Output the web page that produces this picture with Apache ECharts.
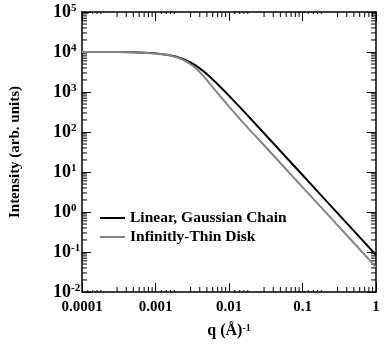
<!DOCTYPE html>
<html>
<head>
<meta charset="utf-8">
<script src="https://cdn.jsdelivr.net/npm/echarts@6/dist/echarts.min.js"></script>
<style>
  html, body { margin: 0; padding: 0; background: #fff; }
  #chart { width: 386px; height: 350px; }
</style>
</head>
<body>
<div id="chart"></div>
<script>
// Scattering vector q (1/Å)
const qValues = [0.0001, 0.0002, 0.0003, 0.0005, 0.001, 0.0015, 0.002, 0.0025, 0.003, 0.0035,
  0.004, 0.0045, 0.005, 0.0055, 0.006, 0.0065, 0.007, 0.008, 0.009, 0.01, 0.012, 0.015, 0.02,
  0.03, 0.05, 0.1, 0.2, 0.5, 1];
// Intensity for a linear Gaussian chain (Debye)
const gaussianChain = [9992, 9968, 9929, 9805, 9240, 8431, 7458, 6449, 5490, 4634,
  3904, 3296, 2798, 2392, 2062, 1791, 1568, 1227, 983.6, 805, 566.5, 366.5, 207.9,
  92.9, 33.56, 8.40, 2.101, 0.3361, 0.0840];
// Intensity for an infinitely thin disk
const thinDisk = [9992, 9968, 9929, 9804, 9237, 8366, 7285, 6104, 4933, 4000,
  3150, 2500, 1980, 1600, 1320, 1100, 940, 700, 540, 430, 295, 184, 103.9,
  46.6, 16.8, 4.20, 1.050, 0.168, 0.0420];

const seriesNames = ['Linear, Gaussian Chain', 'Infinitly-Thin Disk'];

// Axis decades and labels
const xDecades = [-4, -3, -2, -1, 0];
const xTickLabels = ['0.0001', '0.001', '0.01', '0.1', '1'];
const yDecades = [-2, -1, 0, 1, 2, 3, 4, 5];
// Minor tick multipliers within each decade
const xFineMultipliers = [1.2, 1.4, 1.6, 1.8];
const xMinorMultipliers = [3, 4, 5, 6, 7, 8, 9];
const yMinorMultipliers = [2, 3, 4, 5, 6, 7, 8, 9];

const FONT = '"Liberation Serif", "Times New Roman", serif';

const xMin = 1e-4, xMax = 1, yMin = 1e-2, yMax = 1e5;

function minorValues(decades, mults, len) {
  const out = [];
  decades.slice(0, -1).forEach(d => mults.forEach(m => out.push([m * Math.pow(10, d), len])));
  return out;
}
const xMinorData = minorValues(xDecades, xMinorMultipliers, 5).concat(minorValues(xDecades, xFineMultipliers, 2));
const yMinorData = minorValues(yDecades, yMinorMultipliers, 5).map(d => [1, d[0], d[1]]);

function renderXMinor(params, api) {
  const cs = params.coordSys;
  const x = api.coord([api.value(0), yMin])[0];
  const len = api.value(1);
  const st = { stroke: '#000', lineWidth: 1 };
  return { type: 'group', children: [
    { type: 'line', shape: { x1: x, y1: cs.y + cs.height, x2: x, y2: cs.y + cs.height - len }, style: st },
    { type: 'line', shape: { x1: x, y1: cs.y, x2: x, y2: cs.y + len }, style: st }
  ]};
}
function renderYMinor(params, api) {
  const cs = params.coordSys;
  const y = api.coord([xMin, api.value(1)])[1];
  const len = api.value(2);
  const st = { stroke: '#000', lineWidth: 1 };
  return { type: 'group', children: [
    { type: 'line', shape: { x1: cs.x, y1: y, x2: cs.x + len, y2: y }, style: st },
    { type: 'line', shape: { x1: cs.x + cs.width, y1: y, x2: cs.x + cs.width - len, y2: y }, style: st }
  ]};
}

const expOf = v => Math.round(Math.log10(v));

const axisCommon = {
  type: 'log', logBase: 10, interval: 1,
  axisLine: { show: true, lineStyle: { color: '#000', width: 1.5 } },
  axisTick: { show: true, inside: true, length: 9, lineStyle: { color: '#000', width: 1 } },
  splitLine: { show: false },
  minorTick: { show: false }
};

const chart = echarts.init(document.getElementById('chart'), null, { renderer: 'canvas' });
chart.setOption({
  animation: false,
  backgroundColor: '#fff',
  grid: { left: 72, right: 10, top: 12, bottom: 58, containLabel: false },
  legend: {
    data: seriesNames,
    orient: 'vertical',
    left: 95, top: 205,
    icon: 'rect',
    itemWidth: 25, itemHeight: 2, itemGap: 3,
    textStyle: { fontFamily: FONT, fontWeight: 'bold', fontSize: 15.5, color: '#000' }
  },
  xAxis: [
    Object.assign({}, axisCommon, {
      position: 'bottom', min: xMin, max: xMax,
      axisLabel: {
        margin: 8, color: '#000', fontFamily: FONT, fontWeight: 'bold', fontSize: 15,
        formatter: v => xTickLabels[xDecades.indexOf(expOf(v))]
      },
      name: 'q (Å){s|-1}', nameLocation: 'middle', nameGap: 31,
      nameTextStyle: {
        color: '#000', fontFamily: FONT, fontWeight: 'bold', fontSize: 16,
        rich: { s: { fontFamily: FONT, fontWeight: 'bold', fontSize: 10, verticalAlign: 'top', color: '#000' } }
      }
    }),
    Object.assign({}, axisCommon, {
      position: 'top', min: xMin, max: xMax, axisLabel: { show: false }
    })
  ],
  yAxis: [
    Object.assign({}, axisCommon, {
      position: 'left', min: yMin, max: yMax,
      axisLabel: {
        margin: 29, align: 'left', color: '#000',
        formatter: v => '{b|10}{s|' + expOf(v) + '}',
        rich: {
          b: { fontFamily: FONT, fontWeight: 'bold', fontSize: 18, color: '#000' },
          s: { fontFamily: FONT, fontWeight: 'bold', fontSize: 11, verticalAlign: 'top', color: '#000' }
        }
      },
      name: 'Intensity (arb. units)', nameLocation: 'middle', nameGap: 59,
      nameTextStyle: { color: '#000', fontFamily: FONT, fontWeight: 'bold', fontSize: 15 }
    }),
    Object.assign({}, axisCommon, {
      position: 'right', min: yMin, max: yMax, axisLabel: { show: false }
    })
  ],
  series: [
    {
      name: seriesNames[0], type: 'line', symbol: 'none', smooth: false,
      lineStyle: { color: '#000', width: 2 }, itemStyle: { color: '#000' },
      data: qValues.map((q, i) => [q, gaussianChain[i]]), z: 2
    },
    {
      name: seriesNames[1], type: 'line', symbol: 'none', smooth: false,
      lineStyle: { color: '#858585', width: 2 }, itemStyle: { color: '#858585' },
      data: qValues.map((q, i) => [q, thinDisk[i]]), z: 3
    },
    {
      type: 'custom', renderItem: renderXMinor, data: xMinorData, silent: true,
      encode: { x: 0, y: 1 }, z: 1
    },
    {
      type: 'custom', renderItem: renderYMinor, data: yMinorData, silent: true,
      encode: { x: 0, y: 1 }, z: 1
    }
  ]
});
</script>
</body>
</html>
